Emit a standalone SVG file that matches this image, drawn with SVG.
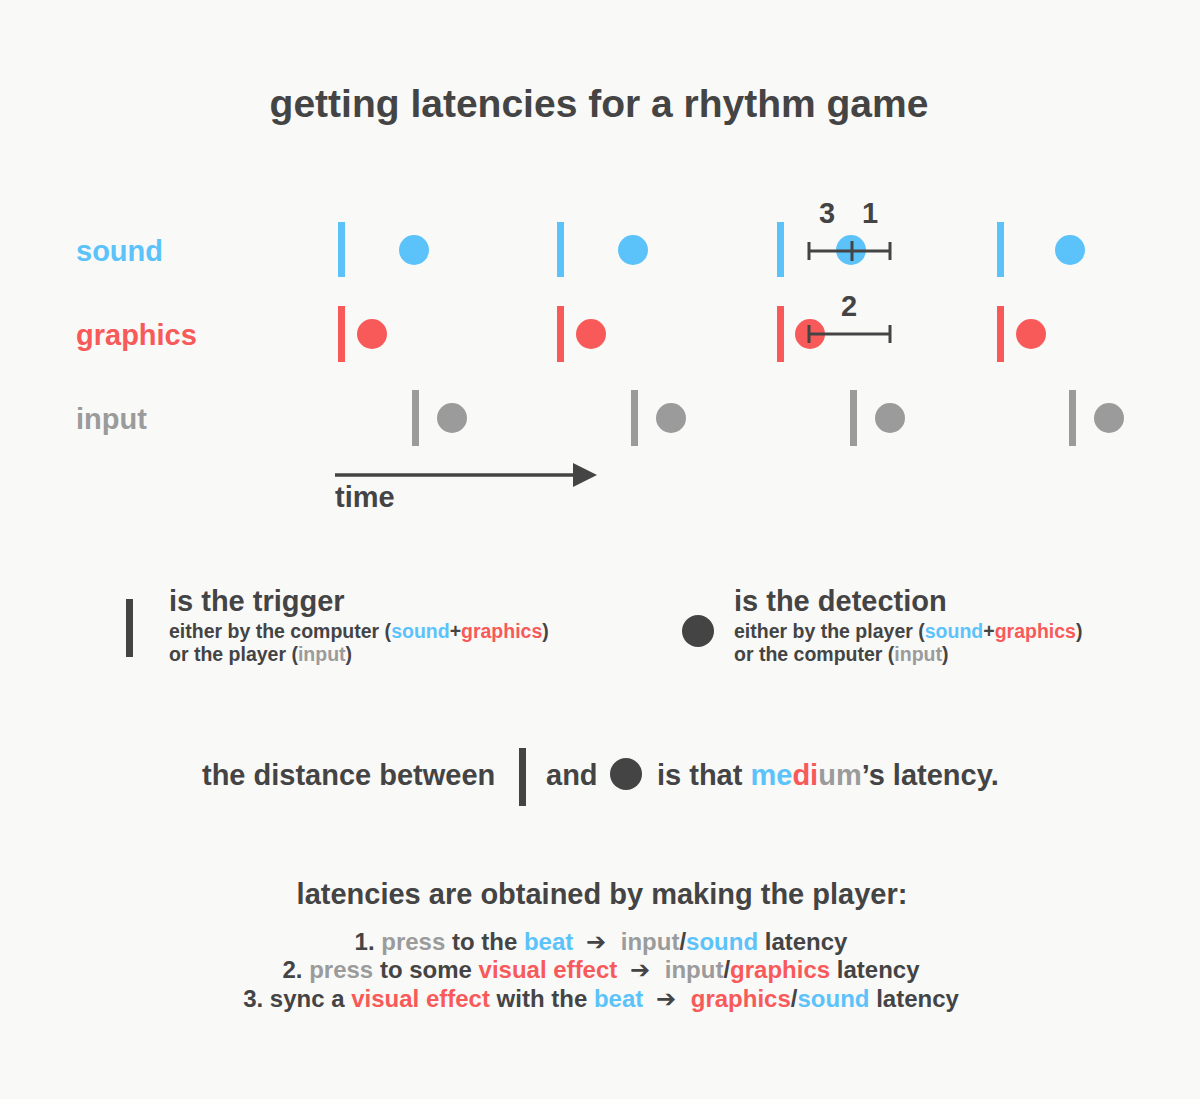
<svg xmlns="http://www.w3.org/2000/svg" width="1200" height="1099" viewBox="0 0 1200 1099">
<style>
text{font-family:"Liberation Sans",Arial,sans-serif;font-weight:bold;fill:#444444}
.b{fill:#5cc3fa}.r{fill:#f85a5a}.g{fill:#9b9b9b}.d{fill:#444444}
.arr{font-family:"DejaVu Sans",sans-serif}
.lbl{font-size:29px}
.sub{font-size:19.5px}
.ln{font-size:24px}
</style>
<rect width="1200" height="1099" fill="#f9f9f8"/>
<g id="title"><text x="599" y="117" text-anchor="middle" font-size="39">getting latencies for a rhythm game</text></g>
<g id="row-labels">
<text class="lbl b" x="76" y="261">sound</text>
<text class="lbl r" x="76" y="345">graphics</text>
<text class="lbl g" x="76" y="429">input</text>
</g>
<g id="sound-row">
<rect class="b" x="338" y="222" width="7" height="55"/><circle class="b" cx="414" cy="250" r="15"/>
<rect class="b" x="557" y="222" width="7" height="55"/><circle class="b" cx="633" cy="250" r="15"/>
<rect class="b" x="777" y="222" width="7" height="55"/><circle class="b" cx="851" cy="250" r="15"/>
<rect class="b" x="997" y="222" width="7" height="55"/><circle class="b" cx="1070" cy="250" r="15"/>
</g>
<g id="graphics-row">
<rect class="r" x="338" y="306" width="7" height="56"/><circle class="r" cx="372" cy="334" r="15"/>
<rect class="r" x="557" y="306" width="7" height="56"/><circle class="r" cx="591" cy="334" r="15"/>
<rect class="r" x="777" y="306" width="7" height="56"/><circle class="r" cx="810" cy="334" r="15"/>
<rect class="r" x="997" y="306" width="7" height="56"/><circle class="r" cx="1031" cy="334" r="15"/>
</g>
<g id="input-row">
<rect class="g" x="412" y="390" width="7" height="56"/><circle class="g" cx="452" cy="418" r="15"/>
<rect class="g" x="631" y="390" width="7" height="56"/><circle class="g" cx="671" cy="418" r="15"/>
<rect class="g" x="850" y="390" width="7" height="56"/><circle class="g" cx="890" cy="418" r="15"/>
<rect class="g" x="1069" y="390" width="7" height="56"/><circle class="g" cx="1109" cy="418" r="15"/>
</g>
<g id="connectors" stroke="#444444" stroke-width="3" fill="none">
<path d="M809,251 H890 M809,242 V260 M890,242 V260 M852,241 V261"/>
<path d="M809,334 H890 M809,325 V343 M890,325 V343"/>
<path d="M335,475 H580" stroke-width="3.5"/>
<path d="M573,463 L597,475 L573,487 Z" fill="#444444" stroke="none"/>
</g>
<g id="error-labels">
<text class="lbl" x="827" y="223" text-anchor="middle">3</text>
<text class="lbl" x="870" y="223" text-anchor="middle">1</text>
<text class="lbl" x="849" y="316" text-anchor="middle">2</text>
</g>
<g id="time-label"><text class="lbl" x="335" y="507">time</text></g>
<g id="legend-trigger">
<rect class="d" x="126" y="599" width="7" height="58"/>
<text class="lbl" x="169" y="611">is the trigger</text>
<text class="sub" x="169" y="638">either by the computer (<tspan class="b">sound</tspan>+<tspan class="r">graphics</tspan>)</text>
<text class="sub" x="169" y="661">or the player (<tspan class="g">input</tspan>)</text>
</g>
<g id="legend-detection">
<circle class="d" cx="698" cy="631" r="16"/>
<text class="lbl" x="734" y="611">is the detection</text>
<text class="sub" x="734" y="638">either by the player (<tspan class="b">sound</tspan>+<tspan class="r">graphics</tspan>)</text>
<text class="sub" x="734" y="661">or the computer (<tspan class="g">input</tspan>)</text>
</g>
<g id="distance-line">
<text class="lbl" x="202" y="785">the distance between</text>
<rect class="d" x="519" y="748" width="7" height="58"/>
<text class="lbl" x="546" y="785">and</text>
<circle class="d" cx="626" cy="774" r="16"/>
<text class="lbl" x="657" y="785">is that <tspan class="b">me</tspan><tspan class="r">di</tspan><tspan class="g">um</tspan>’s latency.</text>
</g>
<g id="method">
<text class="lbl" x="602" y="904" text-anchor="middle">latencies are obtained by making the player:</text>
<text class="ln" x="601" y="950" text-anchor="middle">1. <tspan class="g">press</tspan> to the <tspan class="b">beat</tspan> <tspan class="arr" dx="6">➔</tspan> <tspan class="g" dx="8">input</tspan>/<tspan class="b">sound</tspan> latency</text>
<text class="ln" x="601" y="978" text-anchor="middle">2. <tspan class="g">press</tspan> to some <tspan class="r">visual effect</tspan> <tspan class="arr" dx="6">➔</tspan> <tspan class="g" dx="8">input</tspan>/<tspan class="r">graphics</tspan> latency</text>
<text class="ln" x="601" y="1007" text-anchor="middle">3. sync a <tspan class="r">visual effect</tspan> with the <tspan class="b">beat</tspan> <tspan class="arr" dx="6">➔</tspan> <tspan class="r" dx="8">graphics</tspan>/<tspan class="b">sound</tspan> latency</text>
</g>
</svg>
